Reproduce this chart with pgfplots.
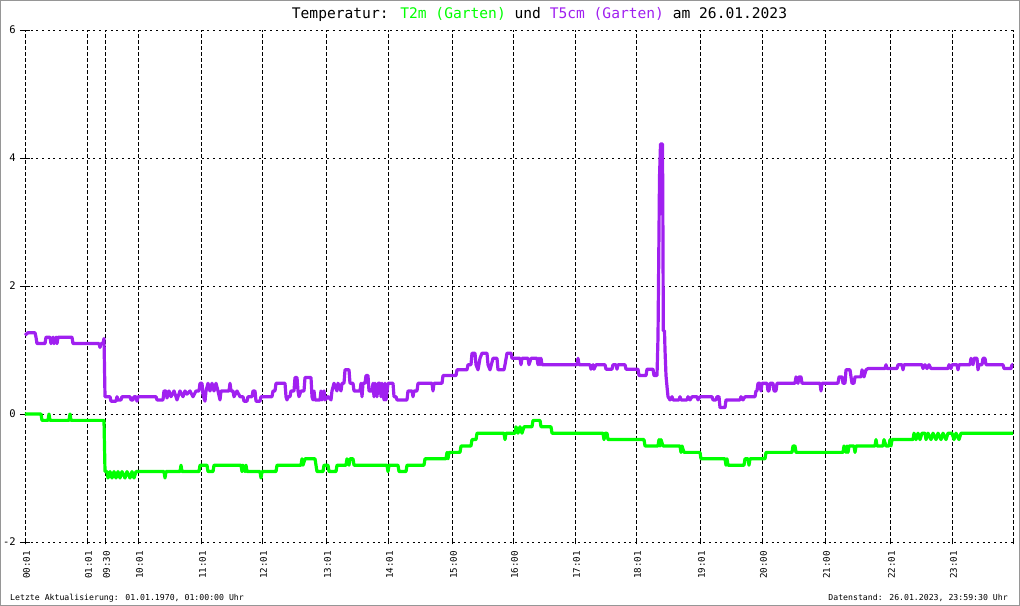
\documentclass[border=0pt]{standalone}
\usepackage{pgfplots}
\pgfplotsset{compat=1.18}
\usepackage{fontspec}
\setmainfont{DejaVu Sans Mono}
\setmonofont{DejaVu Sans Mono}
\definecolor{tgreen}{RGB}{0,255,0}
\definecolor{tpurple}{RGB}{160,32,240}
\definecolor{framegray}{RGB}{150,150,150}
\begin{document}
\begin{tikzpicture}
\begin{axis}[
  x=1pt, y=64pt,
  xmin=25, xmax=1013, ymin=-2, ymax=6,
  clip=false,
  axis line style={draw=none},
  xtick={25,87,105,138,201,262,326,388,452,513,575,636,700,762,825,890,952},
  xticklabels={00:01,01:01,09:30,10:01,11:01,12:01,13:01,14:01,15:00,16:00,17:01,18:01,19:01,20:00,21:00,22:01,23:01},
  ytick={-2,0,2,4,6},
  yticklabels={-2,0,2,4,6},
  xtick pos=bottom, ytick pos=left,
  tick align=center,
  major tick length=10pt,
  xtick style={/pgfplots/major tick length=5pt, black, line width=0.8pt},
  ytick style={black, line width=0.8pt},
  xticklabel style={rotate=90, anchor=east, inner sep=0pt, font=\fontsize{9.2}{10}\selectfont, xshift=0pt, yshift=-1.5pt},
  yticklabel style={anchor=east, inner sep=0pt, font=\fontsize{10.5}{12}\selectfont},
  xticklabel shift=4pt,
  yticklabel shift=4pt,
  grid=major,
  x grid style={black, line width=0.8pt, dash pattern=on 4pt off 2pt},
  y grid style={black, line width=0.8pt, dash pattern=on 2pt off 3.7pt},
  extra x ticks={25,1013},
  extra x tick labels={},
  extra x tick style={grid=major, major grid style={solid, black, line width=0.9pt}},
  extra y ticks={0},
  extra y tick labels={},
  extra y tick style={grid=major, major grid style={solid, black, line width=0.9pt}},
]
% T2m (Garten)
\addplot[tgreen, line width=3.2pt, line join=round] coordinates {
(25,0) (41,0) (42,-0.1) (48,-0.1) (49,0) (50,-0.1) (69,-0.1) (70,0) (71,-0.1) (104,-0.1)
(105,-0.9) (107,-0.9) (108,-1.0) (110,-0.9) (112,-1.0) (114,-0.9) (116,-1.0) (118,-0.9) (120,-1.0) (122,-0.9)
(125,-1.0) (127,-0.9) (130,-1.0) (132,-0.9) (134,-1.0) (136,-0.9) (164,-0.9) (165,-1.0) (166,-0.9) (180,-0.9)
(181,-0.8) (182,-0.9) (199,-0.9) (200,-0.8) (207,-0.8) (208,-0.9) (213,-0.9) (214,-0.8) (241,-0.8) (242,-0.9)
(243,-0.8) (245,-0.9) (246,-0.8) (247,-0.9) (260,-0.9) (261,-1.0) (262,-0.9) (276,-0.9) (277,-0.8) (301,-0.8)
(302,-0.7) (303,-0.8) (305,-0.7) (315,-0.7) (316,-0.8) (317,-0.9) (323,-0.9) (324,-0.8) (328,-0.8) (329,-0.9)
(336,-0.9) (337,-0.8) (346,-0.8) (347,-0.7) (349,-0.8) (350,-0.7) (353,-0.7) (354,-0.8) (387,-0.8) (388,-0.9)
(389,-0.8) (398,-0.8) (399,-0.9) (406,-0.9) (407,-0.8) (424,-0.8) (425,-0.7) (446,-0.7) (447,-0.6) (448,-0.7)
(449,-0.6) (460,-0.6) (461,-0.5) (471,-0.5) (472,-0.4) (476,-0.4) (477,-0.3) (504,-0.3) (505,-0.4) (506,-0.3)
(515,-0.3) (516,-0.2) (518,-0.3) (520,-0.2) (522,-0.3) (524,-0.2) (532,-0.2) (533,-0.1) (540,-0.1) (541,-0.2)
(551,-0.2) (552,-0.3) (603,-0.3) (604,-0.4) (605,-0.3) (607,-0.3) (608,-0.4) (644,-0.4) (645,-0.5) (658,-0.5)
(659,-0.4) (660,-0.5) (661,-0.4) (663,-0.5) (680,-0.5) (681,-0.6) (682,-0.5) (684,-0.6) (700,-0.6) (701,-0.7)
(725,-0.7) (726,-0.8) (727,-0.7) (728,-0.8) (744,-0.8) (745,-0.7) (748,-0.7) (749,-0.8) (750,-0.7) (765,-0.7)
(766,-0.6) (792,-0.6) (793,-0.5) (795,-0.5) (796,-0.6) (843,-0.6) (844,-0.5) (846,-0.6) (847,-0.5) (848,-0.6)
(849,-0.5) (854,-0.5) (855,-0.6) (856,-0.5) (875,-0.5) (876,-0.4) (877,-0.5) (883,-0.5) (884,-0.4) (886,-0.5)
(889,-0.5) (890,-0.4) (891,-0.5) (892,-0.4) (913,-0.4) (914,-0.3) (916,-0.4) (918,-0.3) (920,-0.4) (922,-0.3)
(925,-0.3) (926,-0.4) (928,-0.3) (931,-0.4) (933,-0.3) (936,-0.4) (938,-0.3) (941,-0.4) (943,-0.3) (946,-0.4)
(948,-0.3) (952,-0.3) (954,-0.4) (956,-0.3) (959,-0.4) (961,-0.3) (1013,-0.3)
};
% T5cm (Garten)
\addplot[tpurple, line width=3.2pt, line join=round] coordinates {
(25,1.23) (28,1.27) (35,1.27) (36,1.2) (37,1.1) (45,1.1) (46,1.2) (50,1.2) (51,1.1) (53,1.2)
(54,1.1) (56,1.2) (57,1.1) (58,1.2) (72,1.2) (73,1.1) (99,1.1) (100,1.04) (101,1.1) (103,1.1)
(104,1.18) (105,0.27) (110,0.27) (111,0.2) (116,0.2) (117,0.27) (118,0.22) (121,0.22) (122,0.27) (130,0.27)
(131,0.22) (133,0.22) (134,0.27) (136,0.27) (137,0.2) (138,0.27) (156,0.27) (157,0.22) (163,0.22) (164,0.36)
(166,0.36) (167,0.25) (169,0.36) (171,0.27) (174,0.36) (177,0.22) (180,0.36) (183,0.27) (185,0.36) (187,0.31)
(190,0.36) (193,0.27) (196,0.36) (199,0.36) (200,0.48) (202,0.48) (203,0.3) (205,0.2) (206,0.36) (208,0.48)
(210,0.36) (212,0.48) (214,0.36) (216,0.48) (218,0.36) (220,0.22) (221,0.36) (229,0.36) (230,0.48) (231,0.36)
(233,0.36) (234,0.27) (237,0.36) (240,0.27) (243,0.27) (244,0.2) (247,0.2) (248,0.27) (252,0.27) (253,0.36)
(255,0.36) (256,0.2) (260,0.2) (261,0.27) (272,0.27) (273,0.36) (275,0.36) (276,0.48) (285,0.48) (286,0.27)
(287,0.22) (288,0.27) (290,0.27) (291,0.36) (294,0.36) (295,0.57) (297,0.57) (298,0.36) (299,0.27) (301,0.36)
(304,0.36) (305,0.57) (311,0.57) (312,0.27) (313,0.22) (314,0.36) (315,0.22) (320,0.22) (321,0.36) (322,0.22)
(324,0.36) (325,0.22) (328,0.27) (331,0.22) (332,0.36) (334,0.48) (337,0.36) (338,0.48) (341,0.36) (342,0.48)
(344,0.48) (345,0.69) (349,0.69) (350,0.48) (353,0.48) (354,0.36) (360,0.36) (361,0.48) (362,0.27) (363,0.48)
(365,0.48) (366,0.6) (368,0.6) (369,0.36) (372,0.36) (373,0.48) (374,0.27) (375,0.48) (377,0.27) (378,0.48)
(380,0.48) (381,0.27) (382,0.48) (384,0.22) (385,0.48) (386,0.22) (388,0.48) (393,0.48) (394,0.27) (396,0.27)
(397,0.22) (407,0.22) (408,0.36) (412,0.36) (413,0.27) (414,0.36) (417,0.36) (418,0.48) (432,0.48) (433,0.36)
(434,0.48) (442,0.48) (443,0.6) (456,0.6) (457,0.69) (467,0.69) (468,0.77) (471,0.77) (472,0.95) (475,0.95)
(476,0.77) (478,0.69) (480,0.87) (482,0.95) (487,0.95) (488,0.77) (490,0.69) (493,0.87) (497,0.87) (498,0.69)
(504,0.69) (505,0.77) (507,0.95) (511,0.95) (512,0.87) (520,0.87) (521,0.77) (522,0.87) (528,0.87) (529,0.77)
(531,0.87) (537,0.87) (538,0.77) (539,0.87) (540,0.77) (541,0.87) (542,0.77) (577,0.77) (578,0.87) (579,0.77)
(590,0.77) (591,0.7) (593,0.77) (594,0.7) (596,0.77) (605,0.77) (606,0.7) (612,0.7) (613,0.77) (616,0.77)
(617,0.7) (618,0.77) (625,0.77) (626,0.7) (638,0.7) (639,0.6) (646,0.6) (647,0.7) (653,0.7) (654,0.6)
(657,0.6) (658,1.2) (659.5,3.7) (660.5,4.22) (662.5,4.22) (663,2.6) (663.3,1.3) (664.5,1.3) (665,1.0) (666,0.6)
(667,0.43) (668,0.27) (670,0.22) (672,0.27) (673,0.22) (679,0.22) (680,0.27) (681,0.22) (687,0.22) (688,0.27)
(690,0.22) (692,0.27) (697,0.27) (698,0.22) (700,0.27) (712,0.27) (713,0.22) (716,0.22) (717,0.27) (719,0.27)
(720,0.1) (725,0.1) (726,0.22) (740,0.22) (741,0.27) (743,0.22) (745,0.27) (755,0.27) (756,0.36) (757,0.36)
(758,0.48) (760,0.48) (761,0.36) (762,0.48) (767,0.48) (768,0.36) (769,0.36) (770,0.48) (773,0.48) (774,0.36)
(776,0.36) (777,0.48) (795,0.48) (796,0.58) (798,0.48) (799,0.58) (801,0.58) (802,0.48) (820,0.48) (821,0.36)
(822,0.48) (838,0.48) (839,0.58) (842,0.58) (843,0.48) (845,0.48) (846,0.69) (850,0.69) (851,0.58) (852,0.48)
(854,0.48) (855,0.58) (861,0.58) (862,0.69) (864,0.58) (866,0.69) (868,0.71) (885,0.71) (886,0.77) (887,0.71)
(897,0.71) (898,0.77) (902,0.77) (903,0.69) (904,0.77) (922,0.77) (923,0.71) (925,0.77) (927,0.71) (929,0.77)
(931,0.71) (933,0.71) (948,0.71) (949,0.77) (951,0.71) (952,0.77) (957,0.77) (958,0.69) (959,0.77) (970,0.77)
(971,0.87) (973,0.77) (974,0.87) (977,0.87) (978,0.69) (979,0.77) (982,0.77) (983,0.87) (985,0.87) (986,0.77)
(1003,0.77) (1004,0.71) (1011,0.71) (1012,0.77) (1013,0.77)
};
% title and footnotes
\node[font=\fontsize{14.6}{16}\selectfont, inner sep=0pt] at (axis cs:539.5,6.25)
  {Temperatur: \textcolor{tgreen}{T2m (Garten)} und \textcolor{tpurple}{T5cm (Garten)} am 26.01.2023};
\node[font=\fontsize{8.2}{9}\selectfont, inner sep=0pt, anchor=base west] at (axis cs:10,-2.9219)
  {Letzte Aktualisierung: 01.01.1970, 01:00:00 Uhr};
\node[font=\fontsize{8.2}{9}\selectfont, inner sep=0pt, anchor=base east] at (axis cs:1008,-2.9219)
  {Datenstand: 26.01.2023, 23:59:30 Uhr};
\draw[framegray, line width=1pt] (axis cs:0.5,6.4609) rectangle (axis cs:1019.5,-2.9922);
\end{axis}
\end{tikzpicture}
\end{document}
